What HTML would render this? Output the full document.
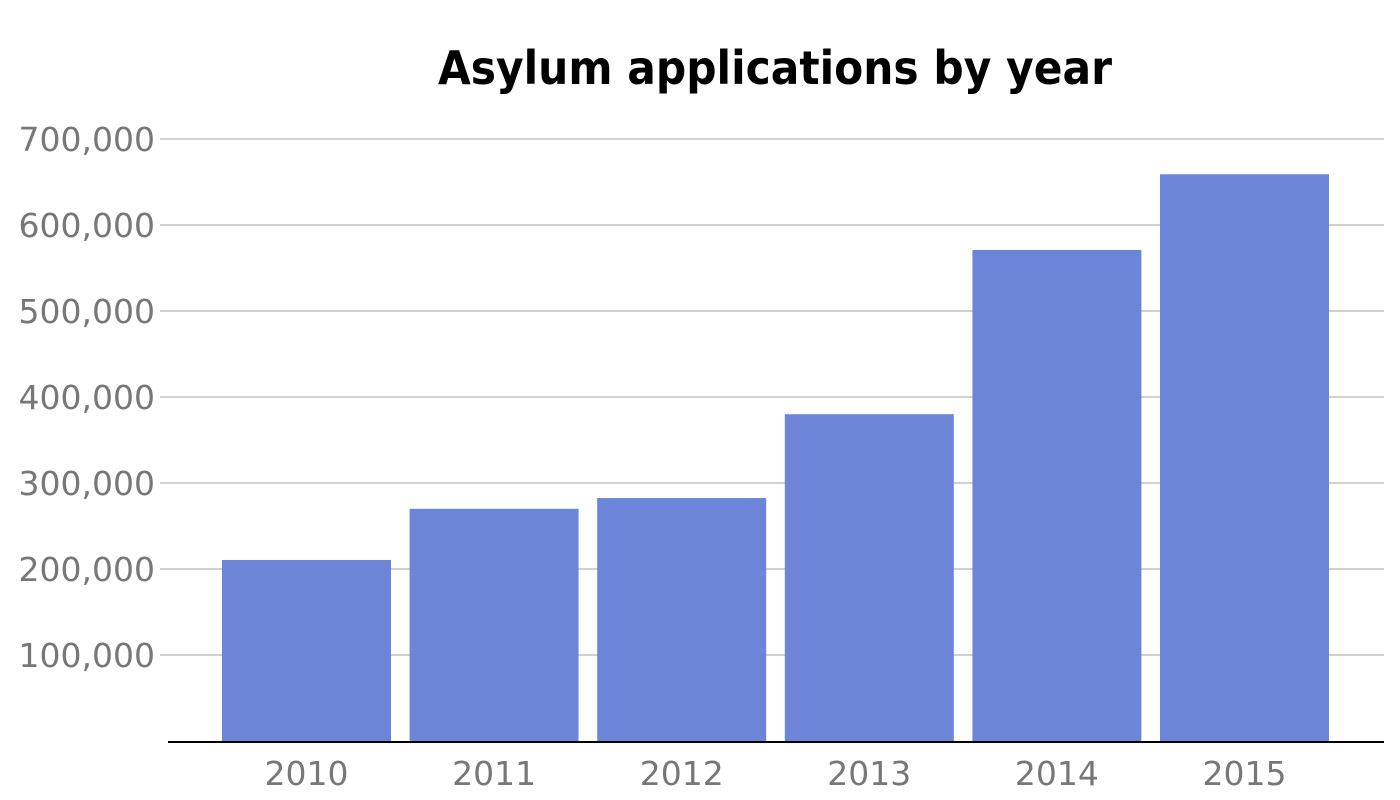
<!DOCTYPE html>
<html><head><meta charset="utf-8"><style>
html,body{margin:0;padding:0;background:#fff;}
svg{display:block;font-family:"DejaVu Sans","Liberation Sans",sans-serif;}
</style></head><body>
<svg id="chart" width="1400" height="800" viewBox="0 0 1400 800">
<text x="775" y="84" text-anchor="middle" font-size="46" font-weight="bold" fill="#000" textLength="674" lengthAdjust="spacingAndGlyphs">Asylum applications by year</text>
<g id="grid"></g><g id="bars"></g><g id="xlabels"></g>
</svg>
<script>
const categories = ["2010","2011","2012","2013","2014","2015"];
const values = [210500, 270000, 282500, 380000, 571000, 659000];
const yTicks = [100000,200000,300000,400000,500000,600000,700000];
const tickLabels = ["100,000","200,000","300,000","400,000","500,000","600,000","700,000"];

const NS="http://www.w3.org/2000/svg";
const baseY=741, pxPer=602/700000;
const y=v=>baseY-v*pxPer;
const bandStart=212.7, step=187.6, barW=169;
const x=i=>bandStart+i*step+(step-barW)/2;
function mk(t,a){const e=document.createElementNS(NS,t);for(const k in a)e.setAttribute(k,a[k]);return e;}
const grid=document.getElementById('grid');
yTicks.forEach((v,i)=>{
  const l=mk('line',{x1:160,x2:1384,y1:y(v),y2:y(v),stroke:'#d0d0d0','stroke-width':2});
  
  
  grid.appendChild(l);
  const t=mk('text',{x:155,y:y(v)+12,'text-anchor':'end','font-size':33,fill:'#777'});
  t.textContent=tickLabels[i];
  
  
  grid.appendChild(t);
});
const bars=document.getElementById('bars');
values.forEach((v,i)=>{
  const r=mk('rect',{x:x(i),y:y(v),width:barW,height:baseY-y(v),fill:'#6d85d9'});
  
  
  bars.appendChild(r);
});
const xl=document.getElementById('xlabels');
const ax=mk('line',{x1:168,x2:1384,y1:baseY+1,y2:baseY+1,stroke:'#000','stroke-width':2});


xl.appendChild(ax);
categories.forEach((c,i)=>{
  const t=mk('text',{x:x(i)+barW/2,y:785,'text-anchor':'middle','font-size':33,fill:'#777'});
  t.textContent=c;
  
  
  xl.appendChild(t);
});
</script>
</body></html>
